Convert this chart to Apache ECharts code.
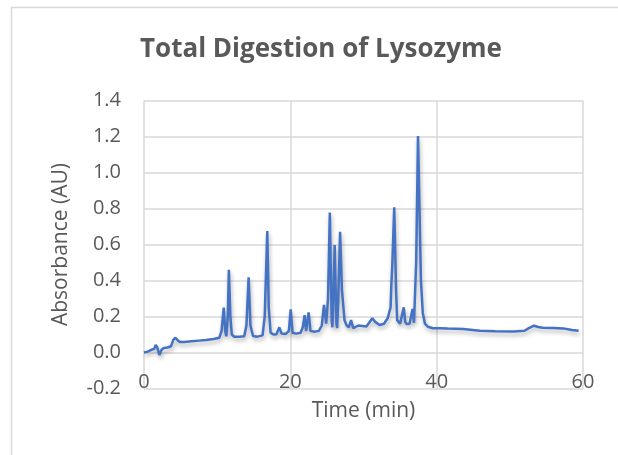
<!DOCTYPE html>
<html>
<head>
<meta charset="utf-8">
<script src="https://cdn.jsdelivr.net/npm/echarts@6/dist/echarts.min.js"></script>
<style>
html,body{margin:0;padding:0;background:#fff;}
#chart{width:618px;height:455px;}
</style>
</head>
<body>
<div id="chart"></div>
<script>
// Retention time (min)
var timeMin = [0.0,0.5,1.0,1.4,1.6,1.8,2.1,2.4,2.7,3.2,3.7,4.0,4.3,4.6,4.9,5.5,6.5,7.5,8.5,9.5,
  10.3,10.6,10.9,11.1,11.25,11.45,11.6,11.8,12.0,12.3,13.0,13.7,14.0,14.3,14.55,14.9,15.5,16.2,16.5,16.85,
  17.05,17.3,17.7,18.1,18.5,18.8,19.4,19.8,20.05,20.3,20.8,21.4,21.7,21.95,22.15,22.5,22.75,23.3,23.9,24.3,
  24.6,24.9,25.15,25.4,25.65,25.75,25.85,26.06,26.3,26.4,26.55,26.8,27.05,27.4,27.7,28.0,28.3,28.6,29.3,30.4,
  31.2,31.6,32.2,32.8,33.3,33.7,33.8,33.95,34.2,34.45,34.6,35.0,35.5,35.7,35.9,36.3,36.7,36.9,37.05,37.2,
  37.45,37.65,37.85,38.1,38.4,38.8,39.5,40.5,41.5,43.6,45.9,48.0,50.5,52.0,52.6,53.3,53.9,54.5,56.0,57.3,
  58.5,59.4];
// Absorbance (AU)
var absorbance = [0.000,0.005,0.015,0.020,0.042,0.030,-0.014,0.015,0.025,0.028,0.035,0.070,0.082,0.068,0.058,0.058,0.062,0.066,0.070,0.075,
  0.082,0.120,0.250,0.120,0.090,0.200,0.460,0.200,0.100,0.088,0.087,0.090,0.150,0.418,0.150,0.092,0.088,0.095,0.200,0.675,
  0.250,0.110,0.100,0.102,0.140,0.105,0.103,0.120,0.240,0.110,0.105,0.110,0.140,0.208,0.120,0.223,0.120,0.115,0.120,0.150,
  0.264,0.160,0.300,0.777,0.180,0.140,0.250,0.597,0.160,0.136,0.300,0.671,0.350,0.180,0.150,0.140,0.180,0.135,0.150,0.145,
  0.190,0.170,0.153,0.160,0.190,0.250,0.371,0.500,0.807,0.350,0.180,0.160,0.251,0.170,0.158,0.160,0.242,0.165,0.160,0.500,
  1.203,0.800,0.400,0.220,0.160,0.143,0.135,0.135,0.133,0.130,0.121,0.118,0.116,0.121,0.135,0.149,0.142,0.138,0.136,0.134,
  0.125,0.121];
var xTickLabels = ['0','20','40','60'];
var yTickLabels = ['-0.2','0.0','0.2','0.4','0.6','0.8','1.0','1.2','1.4'];

var seriesData = timeMin.map(function(t,i){ return [t, absorbance[i]]; });

var chart = echarts.init(document.getElementById('chart'), null, {renderer:'canvas'});
var textColor = '#595959';
var gridColor = '#d9d9d9';
var font = '"Open Sans", "Noto Sans", sans-serif';
chart.setOption({
  animation:false,
  backgroundColor:'#fff',
  title:{
    text:'Total Digestion of Lysozyme',
    left:316, textAlign:'center',
    top:32,
    textStyle:{color:textColor,fontSize:26,fontWeight:'bold',fontFamily:font}
  },
  graphic:[{
    type:'rect', silent:true,
    shape:{x:11.5,y:7.5,width:700,height:600},
    style:{fill:'none',stroke:gridColor,lineWidth:1.5}
  }],
  grid:{left:144,right:35,top:100.5,bottom:66.5},
  xAxis:{
    type:'value', min:0, max:60, interval:20,
    axisLine:{show:false}, axisTick:{show:false},
    splitLine:{show:true,lineStyle:{color:gridColor,width:1.5}},
    axisLabel:{color:textColor,fontSize:20,fontFamily:font,margin:-16,
      formatter:function(v){ return xTickLabels[Math.round(v/20)]; }},
    name:'Time (min)', nameLocation:'middle', nameGap:12,
    nameTextStyle:{color:textColor,fontSize:21,fontFamily:font,verticalAlign:'top'}
  },
  yAxis:{
    type:'value', min:-0.2, max:1.4, interval:0.2,
    axisLine:{show:false}, axisTick:{show:false},
    splitLine:{show:true,lineStyle:{color:gridColor,width:1.5}},
    axisLabel:{color:textColor,fontSize:20,fontFamily:font,margin:23,
      formatter:function(v){ return yTickLabels[Math.round((v+0.2)/0.2)]; }},
    name:'Absorbance (AU)', nameLocation:'middle', nameGap:72,
    nameTextStyle:{color:textColor,fontSize:21,fontFamily:font}
  },
  series:[{
    type:'line', data:seriesData, showSymbol:false, symbol:'none',
    lineStyle:{color:'#4472C4',width:2.5,shadowColor:'rgba(0,0,0,0.3)',shadowBlur:4,shadowOffsetX:1,shadowOffsetY:3},
    itemStyle:{color:'#4472C4'}
  }]
});
</script>
</body>
</html>
